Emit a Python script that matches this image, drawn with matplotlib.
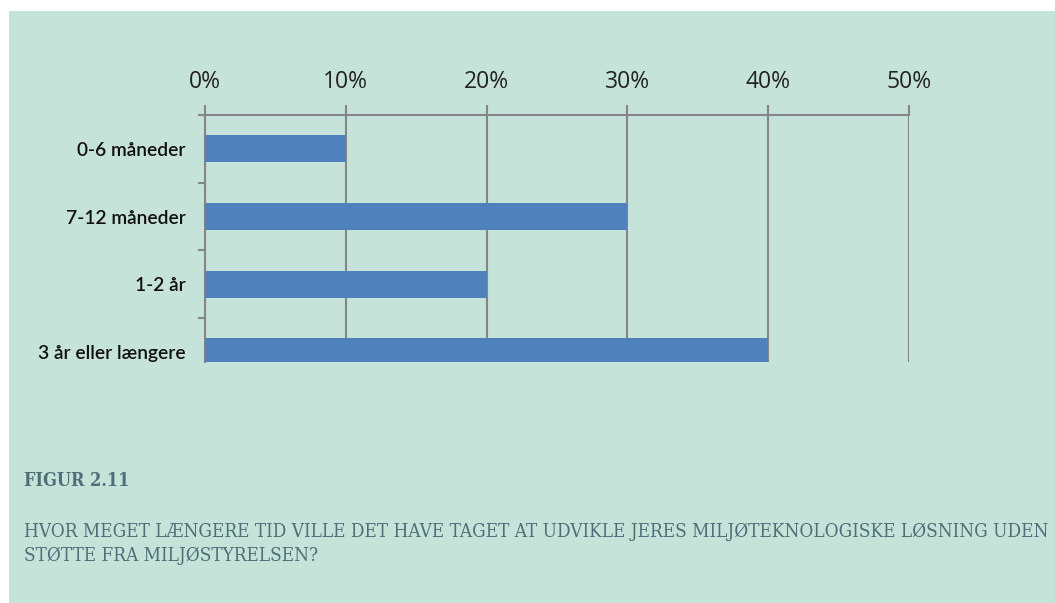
import numpy as np
import matplotlib.pyplot as plt
from matplotlib.patches import Rectangle

# data
kategorier = ['0-6 måneder', '7-12 måneder', '1-2 år', '3 år eller længere']
andel = [10, 30, 20, 40]
xticks = [0, 10, 20, 30, 40, 50]

bg = '#C6E3DA'
bar_color = '#4F81BD'
grid_color = '#868686'
cap_color = '#4E6E78'

fig = plt.figure(figsize=(10.55, 6.03), dpi=100)
fig.patch.set_facecolor('white')
# gron baggrund med hvid kant oppe og til venstre
fig.patches.append(Rectangle((9 / 1055, 0), 1, 1 - 11 / 603, transform=fig.transFigure,
                             facecolor=bg, edgecolor='none', zorder=-10))

ax = fig.add_axes([205 / 1055, 1 - 362 / 603, (909 - 205) / 1055, (362 - 115) / 603])
ax.set_facecolor('none')

y = np.arange(len(kategorier))
ax.barh(y, andel, height=0.4, color=bar_color, zorder=3)

ax.set_xlim(0, 50)
ax.set_ylim(3.15, -0.5)

ax.xaxis.tick_top()
ax.set_xticks(xticks)
ax.set_xticklabels([f'{v}%' for v in xticks], fontsize=16.5, family='Open Sans', color='#222222')
ax.tick_params(axis='x', length=7, width=1.5, color=grid_color, pad=8)
ax.grid(axis='x', color=grid_color, linewidth=1.5, zorder=1)

ax.set_yticks(y)
ax.set_yticklabels(kategorier, fontsize=13.8, family='Lato', weight='semibold', color='#111111')
ax.set_yticks([-0.5, 0.5, 1.5, 2.5], minor=True)
ax.tick_params(axis='y', which='major', length=0, pad=14)
ax.tick_params(axis='y', which='minor', length=5, width=1.5, color=grid_color)

for s in ['bottom', 'right']:
    ax.spines[s].set_visible(False)
for s in ['top', 'left']:
    ax.spines[s].set_color(grid_color)
    ax.spines[s].set_linewidth(1.5)

fig.text(24 / 1055, 1 - 481 / 603, 'FIGUR 2.11', fontsize=13, family='DejaVu Serif',
         fontstretch='condensed', weight='bold', color=cap_color, va='center')
fig.text(24 / 1055, 1 - 544 / 603,
         'HVOR MEGET LÆNGERE TID VILLE DET HAVE TAGET AT UDVIKLE JERES MILJØTEKNOLOGISKE LØSNING UDEN\n'
         'STØTTE FRA MILJØSTYRELSEN?',
         fontsize=13.6, family='DejaVu Serif', fontstretch='condensed', color=cap_color,
         va='center', linespacing=1.38)

fig.savefig('out.png', dpi=100, facecolor=fig.get_facecolor())
